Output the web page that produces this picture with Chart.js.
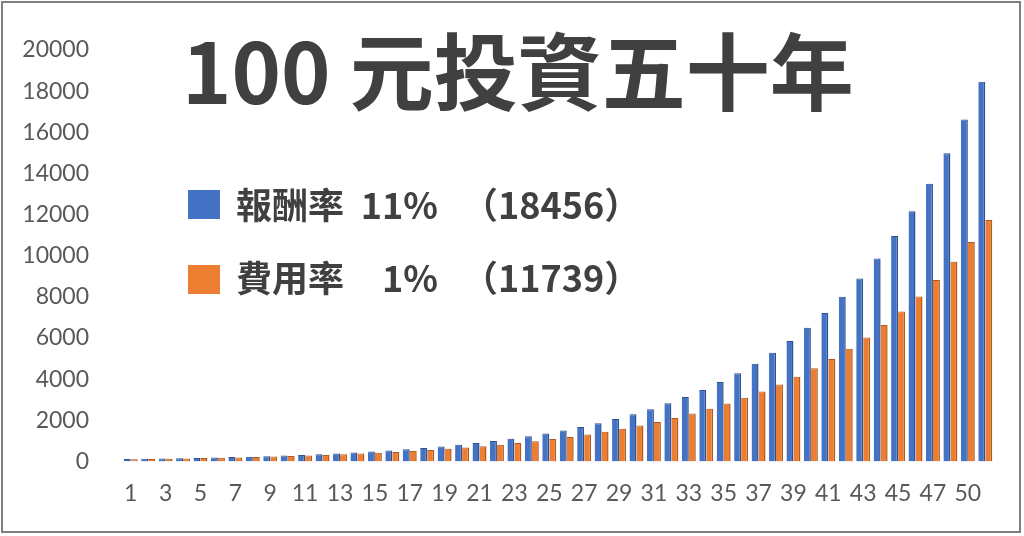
<!DOCTYPE html>
<html>
<head>
<meta charset="utf-8">
<script src="https://cdn.jsdelivr.net/npm/chart.js@4.4.1/dist/chart.umd.min.js"></script>
<style>
  html, body { margin: 0; padding: 0; background: #fff; }
  #wrap { position: relative; width: 1024px; height: 536px; }
</style>
</head>
<body>
<div id="wrap"><canvas id="chart1" width="1024" height="536"></canvas></div>
<script>
// year labels as printed under the bars (every second one is shown)
const years = ['1','2','3','4','5','6','7','8','9','10','11','12','13','14','15','16','17','18','19','20',
  '21','22','23','24','25','26','27','28','29','30','31','32','33','34','35','36','37','38','39','40',
  '41','42','43','44','45','46','47','48','50','51'];

// 報酬率 11%
const returnValues = [111, 123, 137, 152, 169, 187, 208, 230, 256, 284, 315, 350, 388, 431, 478, 531, 590, 654, 726, 806,
  895, 993, 1103, 1224, 1359, 1508, 1674, 1858, 2062, 2289, 2541, 2821, 3131, 3475, 3857, 4282, 4753, 5276, 5856, 6500,
  7215, 8009, 8890, 9868, 10953, 12158, 13495, 14980, 16627, 18456];

// 費用率 1% -> 10%
const costValues = [110, 121, 133, 146, 161, 177, 195, 214, 236, 259, 285, 314, 345, 380, 418, 460, 505, 556, 612, 673,
  740, 814, 895, 985, 1083, 1192, 1311, 1442, 1586, 1745, 1919, 2111, 2323, 2555, 2810, 3091, 3400, 3740, 4114, 4526,
  4979, 5476, 6024, 6626, 7289, 8018, 8820, 9702, 10672, 11739];

const yTicks = [0, 2000, 4000, 6000, 8000, 10000, 12000, 14000, 16000, 18000, 20000];

const titleText = '100 元投資五十年';
const legendRows = [
  { name: '報酬率', rate: '11%', total: '（18456）', color: '#4472C4' },
  { name: '費用率', rate: '1%', total: '（11739）', color: '#ED7D31' }
];

const cjkFont = '"Noto Sans CJK TC", "Noto Sans CJK SC", sans-serif';

// title, legend and frame drawn on top of the chart
const overlayPlugin = {
  id: 'overlay',
  beforeDraw(chart) {
    const ctx = chart.ctx;
    ctx.save();
    ctx.fillStyle = '#fff';
    ctx.fillRect(0, 0, chart.width, chart.height);
    ctx.restore();
  },
  afterDraw(chart) {
    const ctx = chart.ctx;
    ctx.save();
    ctx.fillStyle = '#404040';
    ctx.textBaseline = 'alphabetic';
    ctx.font = 'bold 84px ' + cjkFont;
    ctx.textAlign = 'left';
    ctx.fillText(titleText, 182, 104);

    const rowY = [219, 292];
    const boxY = [190, 265];
    legendRows.forEach((row, i) => {
      ctx.fillStyle = row.color;
      ctx.fillRect(188, boxY[i], 32, 29);
      ctx.fillStyle = '#404040';
      ctx.font = 'bold 36px ' + cjkFont;
      ctx.textAlign = 'left';
      ctx.fillText(row.name, 236, rowY[i]);
      ctx.textAlign = 'right';
      ctx.fillText(row.rate, 438, rowY[i]);
      ctx.textAlign = 'left';
      ctx.fillText(row.total, 462, rowY[i]);
    });

    ctx.strokeStyle = '#7f7f7f';
    ctx.lineWidth = 2;
    ctx.strokeRect(2, 2, 1018, 530);
    ctx.restore();
  }
};

const chart = new Chart(document.getElementById('chart1'), {
  type: 'bar',
  data: {
    labels: years,
    datasets: [{
      label: '報酬率 11%',
      data: returnValues,
      backgroundColor: '#4472C4',
      borderColor: '#2F528F',
      borderWidth: { top: 1, right: 1.5, left: 0, bottom: 0 },
      borderSkipped: false
    }, {
      label: '費用率 1%',
      data: costValues,
      backgroundColor: '#ED7D31',
      borderColor: '#AE5A21',
      borderWidth: { top: 1, right: 1.5, left: 0, bottom: 0 },
      borderSkipped: false
    }]
  },
  options: {
    responsive: false,
    animation: false,
    layout: { padding: { left: 0, right: 30, top: 50, bottom: 19 } },
    datasets: {
      bar: { categoryPercentage: 0.8, barPercentage: 1.0 }
    },
    scales: {
      x: {
        grid: { display: false },
        border: { display: false },
        ticks: {
          autoSkip: false,
          maxRotation: 0,
          padding: 10,
          color: '#595959',
          font: { family: 'Lato', size: 23 },
          callback: function(val, i) {
            return i % 2 === 0 ? this.getLabelForValue(val) : '';
          }
        }
      },
      y: {
        min: 0,
        max: 20000,
        afterFit: (scale) => { scale.width = 122; },
        afterBuildTicks: (scale) => { scale.ticks = yTicks.map(v => ({ value: v })); },
        grid: { display: false },
        border: { display: false },
        ticks: {
          padding: 25,
          color: '#595959',
          font: { family: 'Lato', size: 23 },
          callback: (v) => String(v)
        }
      }
    },
    plugins: {
      legend: { display: false },
      tooltip: { enabled: false }
    }
  },
  plugins: [overlayPlugin]
});
</script>
</body>
</html>
